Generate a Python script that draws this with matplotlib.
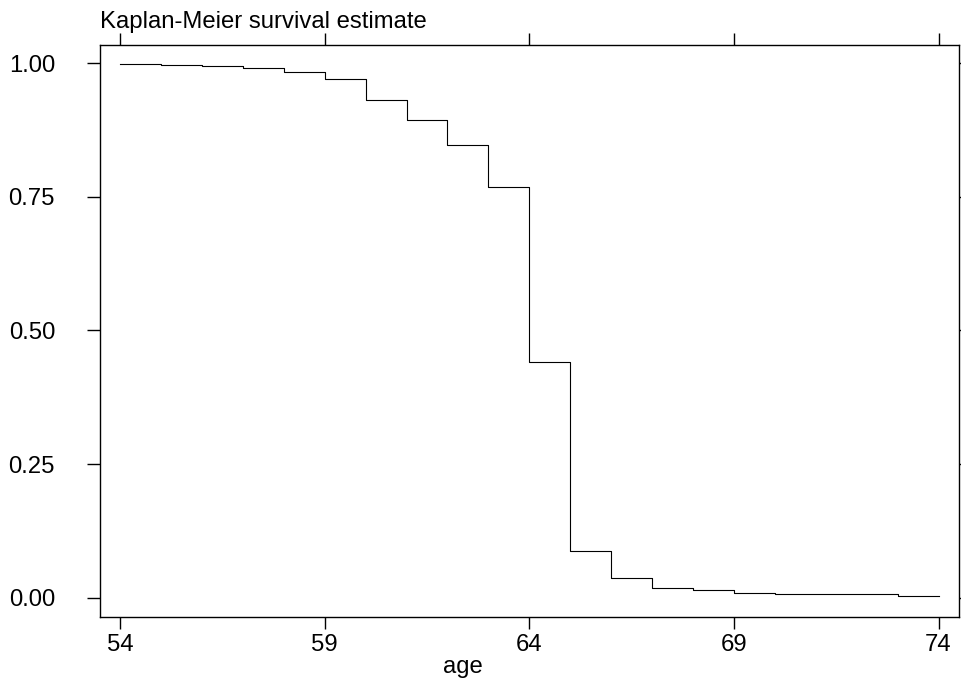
import matplotlib
matplotlib.use("Agg")
import matplotlib.pyplot as plt

plt.rcParams['font.family'] = ['Liberation Sans', 'DejaVu Sans']

# Data: Kaplan-Meier survival estimate by age (step function, value from each age onward)
ages = [54, 55, 56, 57, 58, 59, 60, 61, 62, 63, 64, 65, 66, 67, 68, 69, 70, 71, 72, 73, 74]
survival = [0.999, 0.9966, 0.995, 0.992, 0.984, 0.970, 0.931, 0.894, 0.847, 0.769,
            0.441, 0.0876, 0.036, 0.0172, 0.014, 0.0084, 0.0071, 0.006, 0.006, 0.0034, 0.0034]

xticks = [54, 59, 64, 69, 74]
yticks = [0.0, 0.25, 0.5, 0.75, 1.0]
yticklabels = ["0.00", "0.25", "0.50", "0.75", "1.00"]

fig = plt.figure(figsize=(9.61, 6.79), dpi=100)
ax = fig.add_axes([100/961, 1-617/679, 859/961, (617-45)/679])

ax.step(ages, survival, where='post', color='black', linewidth=0.8)

ax.set_xlim(53.51, 74.5)
ax.set_ylim(-0.0365, 1.0346)

ax.set_xticks(xticks)
ax.set_xticklabels([str(t) for t in xticks])
ax.set_yticks(yticks)
ax.set_yticklabels(yticklabels)

for s in ax.spines.values():
    s.set_linewidth(1.0)
    s.set_color('black')

ax.tick_params(axis='x', which='both', bottom=True, top=True, labelbottom=True,
               labeltop=False, direction='out', length=8, width=1.0, pad=3.4,
               labelsize=17.2, colors='black')
ax.tick_params(axis='x', which='both', top=True, length=8.6)
ax.tick_params(axis='y', which='both', left=True, direction='out',
               length=9.4, width=1.0, pad=23, labelsize=17.2, colors='black')
ax.yaxis.set_ticks_position('both')
ax.tick_params(axis='y', which='both', right=True, labelright=False)
for t in ax.yaxis.get_major_ticks():
    t.tick2line.set_markersize(2)

fig.text(100/961, 1-28/679, "Kaplan-Meier survival estimate", ha='left', va='baseline',
         fontsize=17.2, color='black')
fig.text(463/961, 1-673/679, "age", ha='center', va='baseline', fontsize=17.2, color='black')

fig.savefig("out.png", dpi=100, facecolor='white')
